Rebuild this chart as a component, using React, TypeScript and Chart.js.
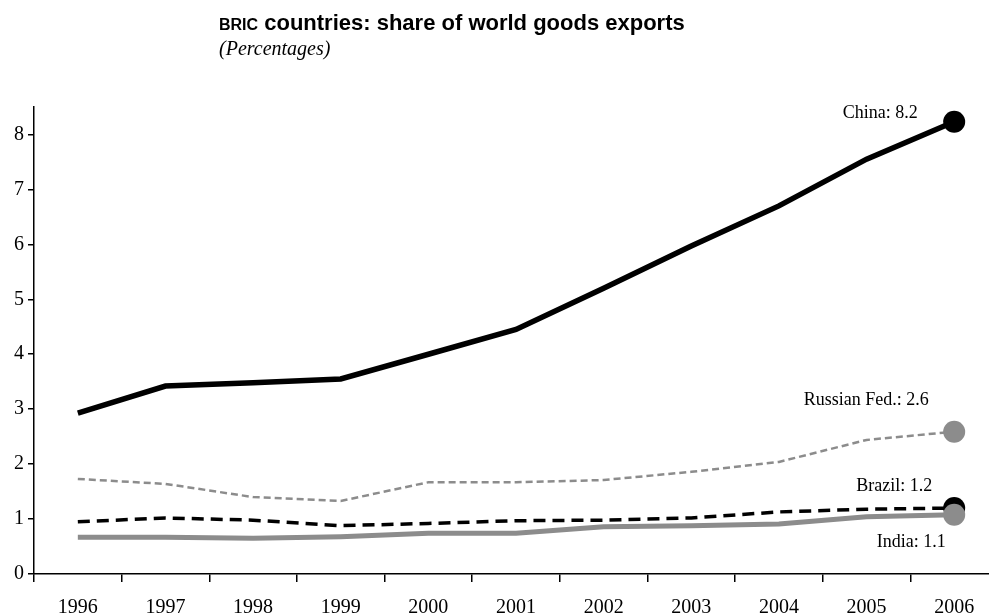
import React, { useEffect, useRef } from "react";
import { Chart, registerables } from "chart.js";

Chart.register(...registerables);

const years = ["1996", "1997", "1998", "1999", "2000", "2001", "2002", "2003", "2004", "2005", "2006"];
const china = [2.93, 3.42, 3.48, 3.55, 4.0, 4.45, 5.2, 5.97, 6.7, 7.55, 8.23];
const russia = [1.73, 1.64, 1.4, 1.33, 1.67, 1.67, 1.71, 1.86, 2.04, 2.44, 2.59];
const brazil = [0.95, 1.02, 0.98, 0.88, 0.92, 0.97, 0.98, 1.02, 1.13, 1.18, 1.2];
const india = [0.67, 0.67, 0.65, 0.68, 0.74, 0.74, 0.86, 0.88, 0.91, 1.04, 1.08];
const seriesNames = ["China", "Russian Fed.", "Brazil", "India"];

const TITLE_SMALL = "BRIC";
const TITLE_REST = " countries: share of world goods exports";
const SUBTITLE = "(Percentages)";

// end-label placement relative to each series' last point (dx, dy)
const labelOffsets = [
  { dx: -74, dy: -9 },
  { dx: -88, dy: -31 },
  { dx: -60, dy: -22 },
  { dx: -43, dy: 28 },
];

const SERIF = "'Liberation Serif', 'Times New Roman', serif";
const SANS = "'Liberation Sans', Arial, sans-serif";

const endLabels = {
  id: "endLabels",
  afterDatasetsDraw(chart: any) {
    const ctx = chart.ctx;
    ctx.save();
    ctx.font = `18px ${SERIF}`;
    ctx.fillStyle = "#000";
    ctx.textAlign = "center";
    ctx.textBaseline = "middle";
    chart.data.datasets.forEach((ds: any, i: number) => {
      const meta = chart.getDatasetMeta(i);
      const last = meta.data.length - 1;
      const pt = meta.data[last];
      const v = ds.data[last];
      const off = labelOffsets[i];
      ctx.fillText(`${ds.label}: ${v.toFixed(1)}`, pt.x + off.dx, pt.y + off.dy);
    });
    ctx.restore();
  },
};

export default function App() {
  const ref = useRef<HTMLCanvasElement | null>(null);

  useEffect(() => {
    if (!ref.current) return;
    const lastR = (n: number) => (c: any) => (c.dataIndex === years.length - 1 ? n : 0);
    const chart = new Chart(ref.current, {
      type: "line",
      data: {
        labels: years,
        datasets: [
          {
            label: seriesNames[0],
            data: china,
            borderColor: "#000",
            backgroundColor: "#000",
            borderWidth: 5.5,
            pointRadius: lastR(11),
            pointBorderWidth: 0,
            pointHoverRadius: lastR(11),
            tension: 0,
            order: 3,
          },
          {
            label: seriesNames[1],
            data: russia,
            borderColor: "#8c8c8c",
            backgroundColor: "#8c8c8c",
            borderWidth: 2.5,
            borderDash: [7, 4],
            pointRadius: lastR(11),
            pointBorderWidth: 0,
            pointHoverRadius: lastR(11),
            tension: 0,
            order: 2,
          },
          {
            label: seriesNames[2],
            data: brazil,
            borderColor: "#000",
            backgroundColor: "#000",
            borderWidth: 3.5,
            borderDash: [12, 7],
            pointRadius: lastR(11),
            pointBorderWidth: 0,
            pointHoverRadius: lastR(11),
            tension: 0,
            order: 1,
          },
          {
            label: seriesNames[3],
            data: india,
            borderColor: "#8c8c8c",
            backgroundColor: "#8c8c8c",
            borderWidth: 5,
            pointRadius: lastR(11),
            pointBorderWidth: 0,
            pointHoverRadius: lastR(11),
            tension: 0,
            order: 0,
          },
        ],
      },
      options: {
        responsive: false,
        maintainAspectRatio: false,
        animation: false,
        devicePixelRatio: 1,
        layout: { padding: { top: 107, left: 0, right: 0, bottom: 0 } },
        plugins: {
          legend: { display: false },
          tooltip: { enabled: false },
          title: { display: false },
        },
        scales: {
          x: {
            type: "category",
            offset: true,
            grid: { offset: true, drawOnChartArea: false, tickLength: 8, color: "#000", lineWidth: 1.5 },
            border: { color: "#000", width: 1.5 },
            ticks: {
              font: { family: SERIF, size: 20 },
              color: "#000",
              padding: 14,
              maxRotation: 0,
              autoSkip: false,
            },
            afterFit: (s: any) => {
              s.height = 41;
            },
          },
          y: {
            min: 0,
            max: 8.5,
            grid: { drawOnChartArea: false, tickLength: 6, color: "#000", lineWidth: 1.5 },
            border: { color: "#000", width: 1.5 },
            ticks: {
              stepSize: 1,
              includeBounds: false,
              font: { family: SERIF, size: 20 },
              color: "#000",
              padding: 4,
            },
            afterFit: (s: any) => {
              s.width = 34;
            },
          },
        },
      },
      plugins: [endLabels],
    });
    return () => chart.destroy();
  }, []);

  return (
    <div
      style={{
        position: "fixed",
        left: 0,
        top: 0,
        width: 989,
        height: 615,
        overflow: "hidden",
        background: "#fff",
      }}
    >
      <canvas ref={ref} width={1009} height={615} style={{ position: "absolute", left: 0, top: 0 }} />
      <div
        style={{
          position: "absolute",
          left: 219,
          top: 12,
          fontFamily: SANS,
          fontWeight: "bold",
          fontSize: 22,
          lineHeight: "22px",
          whiteSpace: "nowrap",
          color: "#000",
        }}
      >
        <span style={{ fontSize: 16 }}>{TITLE_SMALL}</span>
        {TITLE_REST}
      </div>
      <div
        style={{
          position: "absolute",
          left: 219,
          top: 38,
          fontFamily: SERIF,
          fontStyle: "italic",
          fontSize: 20,
          lineHeight: "20px",
          whiteSpace: "nowrap",
          color: "#000",
        }}
      >
        {SUBTITLE}
      </div>
    </div>
  );
}
